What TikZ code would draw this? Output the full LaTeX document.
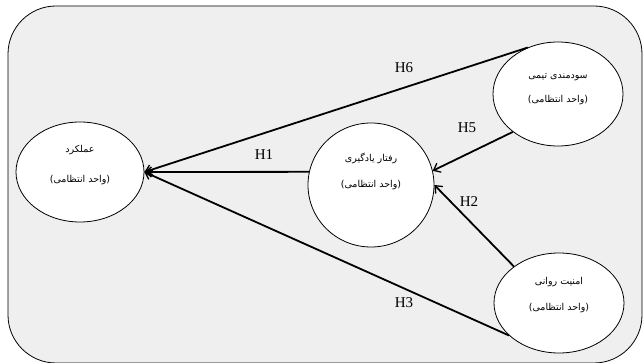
\documentclass[tikz,border=0pt]{standalone}
\usepackage{fontspec}
\setmainfont{Liberation Serif}
\newfontfamily\arabicfont[Script=Arabic]{DejaVu Sans}
\TeXXeTstate=1
\usetikzlibrary{shapes.geometric,arrows.meta}
\definecolor{bgcol}{HTML}{EFEFEF}
\begin{document}
\begin{tikzpicture}[x=1pt,y=1pt,
 bgbox/.style={draw,rounded corners=48pt,fill=bgcol,line width=0.8pt,inner sep=0},
 ell/.style={draw,ellipse,fill=white,line width=0.8pt,inner sep=0},
 fa/.style={font=\arabicfont\fontsize{9.5}{12}\selectfont,align=center,inner sep=0},
 hl/.style={font=\fontsize{15}{18}\selectfont,inner sep=0},
 arr/.style={line width=1.8pt,-{Straight Barb[length=6pt,width=10pt,line width=1.3pt]}}]
\useasboundingbox (0,0) rectangle (643,362);
\node[bgbox,minimum width=634pt,minimum height=357pt] (frame) at (325,177.5) {};
% ellipses
\node[ell,minimum width=128pt,minimum height=100pt] (amal) at (80,190) {};
\node[ell,minimum width=126pt,minimum height=124pt] (rift) at (371,177) {};
\node[ell,minimum width=130pt,minimum height=104pt] (sod) at (558,268) {};
\node[ell,minimum width=130pt,minimum height=100pt] (amn) at (559,59) {};
% texts
\node[fa] (amalA) at (80,212) {\beginR عملکرد\endR};
\node[fa] (amalB) at (80,182) {\beginR (واحد انتظامی)\endR};
\node[fa] (riftA) at (371,204) {\beginR رفتار یادگیری\endR};
\node[fa] (riftB) at (371,177) {\beginR (واحد انتظامی)\endR};
\node[fa] (sodA) at (558,285) {\beginR سودمندی تیمی\endR};
\node[fa] (sodB) at (558,262) {\beginR (واحد انتظامی)\endR};
\node[fa] (amnA) at (559,80) {\beginR امنیت روانی\endR};
\node[fa] (amnB) at (559,54) {\beginR (واحد انتظامی)\endR};
% arrows
\draw[arr] (sod.123) -- (amal.east);
\draw[arr] (rift.168) -- (amal.east);
\draw[arr] (amn.213) -- (amal.east);
\draw[arr] (sod.220) -- (rift.13);
\draw[arr] (amn.141) -- (rift.0);
% labels
\node[hl] (h6) at (404,294) {H6};
\node[hl] (h1) at (264,207) {H1};
\node[hl] (h5) at (467,234) {H5};
\node[hl] (h2) at (469,160) {H2};
\node[hl] (h3) at (404,59) {H3};
\end{tikzpicture}
\end{document}
